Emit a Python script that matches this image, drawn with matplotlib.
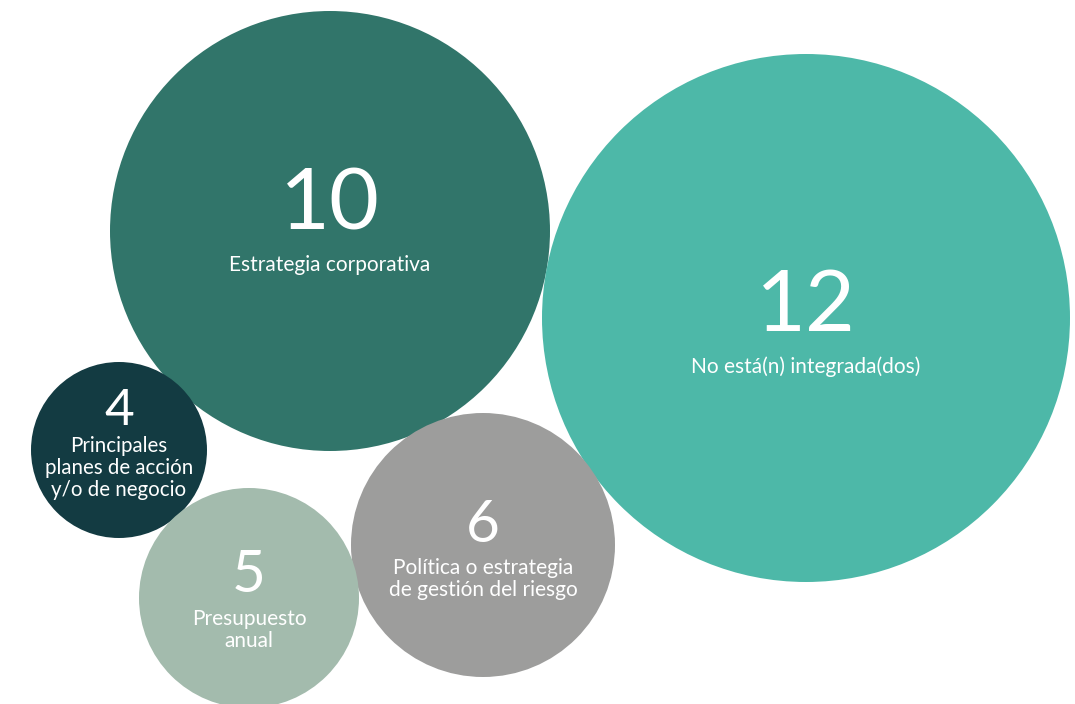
import matplotlib.pyplot as plt
from matplotlib.patches import Circle

# data
values = [10, 12, 6, 4, 5]
labels = ["Estrategia corporativa",
          "No está(n) integrada(dos)",
          "Política o estrategia\nde gestión del riesgo",
          "Principales\nplanes de acción\ny/o de negocio",
          "Presupuesto\nanual"]
colors = ["#31756a", "#4db8a8", "#9d9d9c", "#133b42", "#a3bbad"]

# layout (bubble centres in canvas units, drawing order = list order)
cx = [330, 806, 483, 119, 249]
cy = [231, 318, 545, 450, 598]
num_dy = [-25, -11, -19, -39, -22]
lab_dy = [34, 49, 34, 18, 32]
num_size = [62, 62, 42, 37, 42]
lab_size = [15, 15, 15, 14.8, 15]
unit = 22  # radius per unit of value

fig = plt.figure(figsize=(10.75, 7.04), dpi=100)
ax = fig.add_axes([0, 0, 1, 1])
ax.set_xlim(0, 1075)
ax.set_ylim(704, 0)
ax.set_aspect("equal")
ax.axis("off")

for i, v in enumerate(values):
    ax.add_patch(Circle((cx[i], cy[i]), v * unit, color=colors[i], lw=0, zorder=i))
    ax.text(cx[i], cy[i] + num_dy[i], str(v), color="white", fontsize=num_size[i],
            family="Lato", ha="center", va="center", zorder=10)
    ax.text(cx[i], cy[i] + lab_dy[i], labels[i], color="white", fontsize=lab_size[i],
            family="Lato", ha="center", va="center", linespacing=1.1, zorder=10)

fig.savefig("out.png", dpi=100)
